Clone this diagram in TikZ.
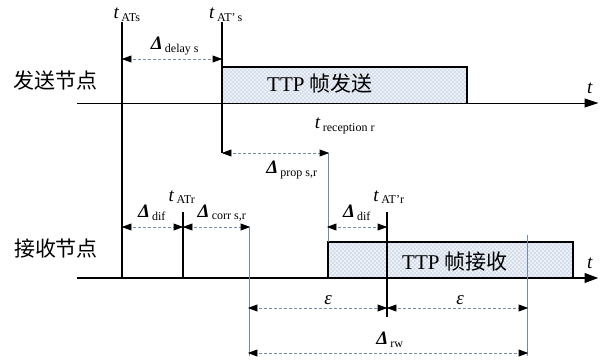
\documentclass[tikz,border=0pt]{standalone}
\usepackage{fontspec}
\setmainfont{Liberation Serif}
\newfontfamily\cjk{Noto Sans CJK SC}
\usetikzlibrary{calc}
\definecolor{thinc}{rgb}{0.45,0.55,0.65}
\definecolor{dotc}{rgb}{0.55,0.65,0.75}
\definecolor{boxfill}{rgb}{0.92,0.94,0.97}
\tikzset{
  saxis/.style={line width=0.9pt},
  raxis/.style={line width=1.6pt},
  thick line/.style={line width=2.6pt},
  thinline/.style={thinc,line width=0.7pt},
  dimarr/.style={thinc,line width=0.8pt,densely dashed},
  headfill/.style={draw=black,fill=black,line width=0.8pt,line join=miter,solid},
  boxline/.style={line width=1.4pt},
  dotfill/.style={fill=dotc},
  lbl/.style={inner sep=0pt,font=\fontsize{19}{20}\selectfont},
  cn/.style={inner sep=0pt,font=\cjk\fontsize{21}{22}\selectfont},
  boxtxt/.style={inner sep=0pt,font=\fontsize{21}{22}\selectfont},
}
\newcommand{\Dl}{\textbf{\textit{Δ}}}
\newcommand{\sbx}[1]{\textsubscript{\,\fontsize{12}{13}\selectfont #1}}
% arrowheads: #1 tip coordinate, #2 length, #3 half width
\newcommand{\headR}[3]{\path[headfill] (#1) -- ++(-#2,-#3) -- ++(0,2*#3) -- cycle;}
\newcommand{\headL}[3]{\path[headfill] (#1) -- ++(#2,-#3) -- ++(0,2*#3) -- cycle;}
% dimension line with heads at both ends (a left, b right)
\newcommand{\dimline}[2]{\draw[dimarr] (#1) -- (#2); \headL{#1}{8}{3}\headR{#2}{8}{3}}
% #1,#2 = top-left corner, #3 = width, #4 = height
\newcommand{\dotbox}[4]{%
  \fill[boxfill] (#1,#2) rectangle ++(#3,#4);
  \begin{scope}
  \clip (#1,#2) rectangle ++(#3,#4);
  \foreach \yy in {0,4,...,#4} {
    \foreach \xx in {0,4,...,#3} {
      \fill[dotfill] (#1+\xx+1,#2+\yy+1) circle (0.55pt);
      \fill[dotfill] (#1+\xx+3,#2+\yy+3) circle (0.55pt);
    }
  }
  \end{scope}}
\begin{document}
\begin{tikzpicture}[x=1pt,y=-1pt]
\useasboundingbox (0,0) rectangle (603,362);
% coordinates
\coordinate (sax0) at (77,103); \coordinate (sax1) at (597,103);
\coordinate (rax0) at (77,278); \coordinate (rax1) at (597,278);
\coordinate (Atop) at (122,22); \coordinate (Abot) at (122,278);
\coordinate (Btop) at (222,22); \coordinate (Bbot) at (222,153);
\coordinate (Ctop) at (183,212); \coordinate (Cbot) at (183,278);
\coordinate (Dtop) at (387,212); \coordinate (Dbot) at (387,317);
\coordinate (d1a) at (123,59); \coordinate (d1b) at (221,59);
\coordinate (p1a) at (223,153); \coordinate (p1b) at (328,153);
\coordinate (v1b) at (328,242);
\coordinate (dfa) at (123,227); \coordinate (dfb) at (182,227);
\coordinate (coa) at (184,227); \coordinate (cob) at (249,227);
\coordinate (v2b) at (249,356);
\coordinate (df2a) at (328,227); \coordinate (df2b) at (386,227);
\coordinate (e1a) at (249,308); \coordinate (e1b) at (386,308);
\coordinate (e2a) at (388,308); \coordinate (e2b) at (527,308);
\coordinate (rwa) at (249,353); \coordinate (rwb) at (527,353);
\coordinate (v3a) at (527,235); \coordinate (v3b) at (527,356);
% boxes
\dotbox{222}{67}{245}{36}
\draw[boxline] (222,103) -- (222,67) -- (467,67) -- (467,103);
\dotbox{328}{242}{245}{36}
\draw[boxline] (328,278) -- (328,242) -- (573,242) -- (573,278);
% axes
\draw[saxis] (sax0) -- ($(sax1)+(-6,0)$);
\headR{sax1}{12}{4}
\draw[raxis] (rax0) -- ($(rax1)+(-6,0)$);
\headR{rax1}{12}{4.5}
% thin verticals
\draw[thinline] (p1b) -- (v1b);
\draw[thinline] (cob) -- (v2b);
\draw[thinline] (v3a) -- (v3b);
% thick verticals
\draw[thick line] (Atop) -- (Abot);
\draw[thick line] (Btop) -- (Bbot);
\draw[thick line] (Ctop) -- (Cbot);
\draw[thick line] (Dtop) -- (Dbot);
% dimension arrows
\dimline{d1a}{d1b}
\dimline{p1a}{p1b}
\dimline{dfa}{dfb}
\dimline{coa}{cob}
\dimline{df2a}{df2b}
\dimline{e1a}{e1b}
\dimline{e2a}{e2b}
\dimline{rwa}{rwb}
% labels
\node[lbl] (l1) at (127,15) {\textit{t}\sbx{ATs}};
\node[lbl] (l2) at (226,15) {\textit{t}\sbx{AT'\,s}};
\node[lbl] (l3) at (175,46) {\Dl\sbx{delay s}};
\node[cn] (l4) at (55,81) {发送节点};
\node[boxtxt] (l5) at (320,84) {TTP {\cjk 帧发送}};
\node[lbl] (l6) at (590,88) {\textit{t}};
\node[lbl] (l7) at (345,126) {\textit{t}\sbx{reception r}};
\node[lbl] (l8) at (292,170) {\Dl\sbx{prop s,r}};
\node[lbl] (l9) at (182,197) {\textit{t}\sbx{ATr}};
\node[lbl] (l10) at (152,213) {\Dl\sbx{dif}};
\node[lbl] (l11) at (222,213) {\Dl\sbx{corr s,r}};
\node[cn] (l12) at (56,249) {接收节点};
\node[lbl] (l13) at (389,197) {\textit{t}\sbx{AT'r}};
\node[lbl] (l14) at (357,213) {\Dl\sbx{dif}};
\node[boxtxt] (l15) at (455,262) {TTP {\cjk 帧接收}};
\node[lbl] (l16) at (590,263) {\textit{t}};
\node[lbl] (l17) at (328,300) {\textit{ε}};
\node[lbl] (l18) at (460,300) {\textit{ε}};
\node[lbl] (l19) at (390,340) {\Dl\sbx{rw}};
\end{tikzpicture}
\end{document}
